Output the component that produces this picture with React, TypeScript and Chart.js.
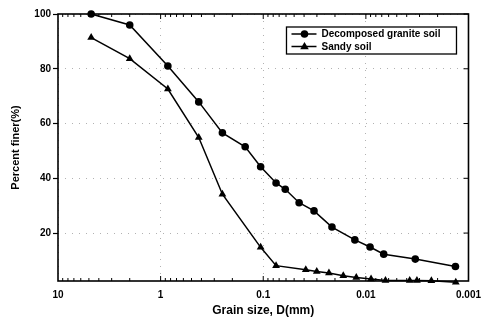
import React, { useEffect, useRef } from "react";
import { Chart, registerables } from "chart.js";

Chart.register(...registerables);

// Decomposed granite soil
const graniteSize = [4.75, 2.0, 0.85, 0.425, 0.25, 0.15, 0.106, 0.075, 0.061, 0.0447, 0.032, 0.0214, 0.0128, 0.0091, 0.0067, 0.0033, 0.00134];
const granitePassing = [100, 96.0, 81.0, 67.9, 56.6, 51.5, 44.2, 38.3, 36.0, 31.1, 28.1, 22.2, 17.5, 14.9, 12.3, 10.5, 7.8];

// Sandy soil
const sandySize = [4.75, 2.0, 0.85, 0.425, 0.25, 0.106, 0.075, 0.0385, 0.0301, 0.0229, 0.0166, 0.0124, 0.0089, 0.00644, 0.00374, 0.00318, 0.0023, 0.00133];
const sandyPassing = [91.4, 83.7, 72.6, 54.9, 34.2, 14.8, 8.1, 6.6, 6.0, 5.4, 4.4, 3.8, 3.2, 2.7, 2.7, 2.7, 2.6, 2.0];

const xTicks = [10, 1, 0.1, 0.01, 0.001];
const yTicks = [20, 40, 60, 80, 100];

const seriesLabels = ["Decomposed granite soil", "Sandy soil"];

const FONT = "'Liberation Sans', Arial, sans-serif";

function drawMarker(ctx: CanvasRenderingContext2D, kind: string, x: number, y: number) {
  ctx.beginPath();
  if (kind === "circle") {
    ctx.arc(x, y, 3.8, 0, Math.PI * 2);
  } else {
    const r = 4.5;
    ctx.moveTo(x, y - r);
    ctx.lineTo(x + r * 0.95, y + r * 0.6);
    ctx.lineTo(x - r * 0.95, y + r * 0.6);
    ctx.closePath();
  }
  ctx.fillStyle = "#000";
  ctx.fill();
}

const framePlugin = {
  id: "frame",
  afterDraw(chart: any) {
    const { ctx, chartArea } = chart;
    const { left, right, top, bottom } = chartArea;
    const xs = chart.scales.x;
    const ys = chart.scales.y;
    ctx.save();
    ctx.strokeStyle = "#000";
    ctx.lineWidth = 1;
    for (let k = -3; k <= 0; k++) {
      for (let m = 1; m <= 9; m++) {
        const v = m * Math.pow(10, k);
        if (v < 0.001 || v > 10) continue;
        const px = xs.getPixelForValue(v);
        const len = m === 1 ? 5 : 3;
        ctx.beginPath();
        ctx.moveTo(px, bottom);
        ctx.lineTo(px, bottom - len);
        ctx.moveTo(px, top);
        ctx.lineTo(px, top + len);
        ctx.stroke();
      }
    }
    for (const v of yTicks) {
      const py = ys.getPixelForValue(v);
      ctx.beginPath();
      ctx.moveTo(right, py);
      ctx.lineTo(right - 5, py);
      ctx.stroke();
    }
    ctx.lineWidth = 1.6;
    ctx.strokeRect(left, top, right - left, bottom - top);

    // legend
    const bw = 170;
    const bh = 27;
    const bx = right - 12 - bw;
    const by = top + 13;
    ctx.fillStyle = "#fff";
    ctx.fillRect(bx, by, bw, bh);
    ctx.lineWidth = 1.3;
    ctx.strokeRect(bx, by, bw, bh);
    const kinds = ["circle", "triangle"];
    ctx.font = "bold 10px " + FONT;
    ctx.textBaseline = "middle";
    ctx.textAlign = "left";
    kinds.forEach((kind, i) => {
      const cy = by + 7 + i * 12.5;
      ctx.strokeStyle = "#000";
      ctx.lineWidth = 1.5;
      ctx.beginPath();
      ctx.moveTo(bx + 5, cy);
      ctx.lineTo(bx + 30, cy);
      ctx.stroke();
      drawMarker(ctx, kind, bx + 18, cy);
      ctx.fillStyle = "#000";
      ctx.fillText(seriesLabels[i], bx + 35, cy + 0.5);
    });
    ctx.restore();
  },
};

export default function App() {
  const ref = useRef<HTMLCanvasElement | null>(null);
  useEffect(() => {
    if (!ref.current) return;
    const chart = new Chart(ref.current, {
      type: "line",
      data: {
        datasets: [
          {
            label: seriesLabels[0],
            data: graniteSize.map((x, i) => ({ x, y: granitePassing[i] })),
            borderColor: "#000",
            backgroundColor: "#000",
            borderWidth: 1.5,
            pointStyle: "circle",
            pointRadius: 3.8,
            pointBorderWidth: 0,
            tension: 0,
            clip: false as any,
          },
          {
            label: seriesLabels[1],
            data: sandySize.map((x, i) => ({ x, y: sandyPassing[i] })),
            borderColor: "#000",
            backgroundColor: "#000",
            borderWidth: 1.5,
            pointStyle: "triangle",
            pointRadius: 4.5,
            pointBorderWidth: 0,
            tension: 0,
            clip: false as any,
          },
        ],
      },
      options: {
        animation: false,
        responsive: true,
        maintainAspectRatio: false,
        layout: { padding: { top: 14, right: 19, left: 0, bottom: 0 } },
        plugins: { legend: { display: false }, tooltip: { enabled: false } },
        scales: {
          x: {
            type: "logarithmic",
            reverse: true,
            min: 0.001,
            max: 10,
            afterBuildTicks: (s: any) => {
              s.ticks = xTicks.map((v) => ({ value: v, major: true }));
            },
            afterFit: (s: any) => {
              s.height = 44;
            },
            ticks: {
              color: "#000",
              font: { family: FONT, size: 10, weight: "bold" },
              padding: 8,
              maxRotation: 0,
              autoSkip: false,
              callback: (v: any) => String(v),
            },
            grid: {
              drawTicks: false,
              color: "rgba(0,0,0,0.3)",
              lineWidth: 1,
            },
            border: { display: false, dash: [1, 6] },
            title: {
              display: true,
              text: "Grain size, D(mm)",
              color: "#000",
              font: { family: FONT, size: 12, weight: "bold" },
              padding: { top: 0, bottom: 7 },
            },
          },
          y: {
            type: "linear",
            min: 2.5,
            max: 100,
            afterBuildTicks: (s: any) => {
              s.ticks = yTicks.map((v) => ({ value: v }));
            },
            afterFit: (s: any) => {
              s.width = 58;
            },
            ticks: {
              color: "#000",
              font: { family: FONT, size: 10, weight: "bold" },
              padding: 2,
            },
            grid: {
              drawTicks: true,
              tickLength: 5,
              tickColor: "#000",
              tickWidth: 1.2,
              color: "rgba(0,0,0,0.3)",
              lineWidth: 1,
            },
            border: { display: false, dash: [1, 6] },
            title: {
              display: true,
              text: "Percent finer(%)",
              color: "#000",
              font: { family: FONT, size: 11, weight: "bold" },
              padding: { top: 9, bottom: 0 },
            },
          },
        },
      } as any,
      plugins: [framePlugin],
    });
    return () => chart.destroy();
  }, []);
  return (
    <div style={{ position: "fixed", left: 0, top: 0, width: 489, height: 325, background: "#fff" }}>
      <canvas ref={ref} />
    </div>
  );
}
